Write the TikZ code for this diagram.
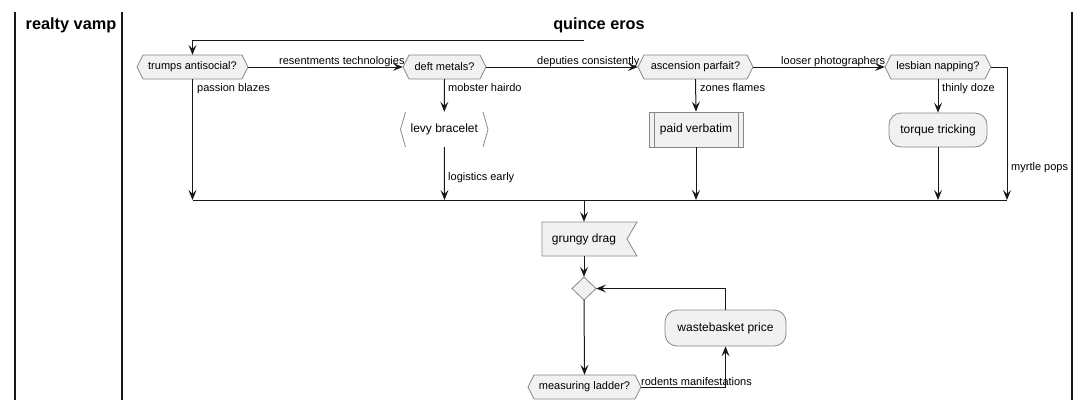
\documentclass[tikz,border=0pt]{standalone}
\usepackage{fontspec}
\setmainfont{Liberation Sans}
\usetikzlibrary{arrows.meta}
\definecolor{boxfill}{HTML}{F1F1F1}
\definecolor{boxline}{HTML}{888888}
\definecolor{ink}{HTML}{181818}
\tikzset{
  flow/.style={draw=ink, line width=1pt, -{Stealth[length=10pt,width=8pt,inset=4pt]}},
  plain/.style={draw=ink, line width=1pt},
  shapeline/.style={draw=boxline, line width=0.8pt},
  txt/.style={inner sep=0pt, font=\fontsize{11}{13}\selectfont},
  btxt/.style={inner sep=0pt, font=\fontsize{12}{14}\selectfont},
  lbl/.style={inner sep=0pt, font=\fontsize{11}{13}\selectfont, anchor=base west},
  lane/.style={draw=ink, line width=1.6pt},
  ttl/.style={inner sep=0pt, font=\fontsize{16.3}{19}\selectfont\bfseries},
}
% hexagon: name, cx, cy, halfwidth, text
\newcommand{\hexnode}[5]{%
  \draw[shapeline, fill=boxfill] ({#2-#4},#3) -- ({#2-#4+6},{#3-12}) -- ({#2+#4-6},{#3-12}) -- ({#2+#4},#3) -- ({#2+#4-6},{#3+12}) -- ({#2-#4+6},{#3+12}) -- cycle;
  \node[txt, minimum width={2*#4*1pt}, minimum height=24pt] (#1) at (#2,#3) {#5};}
\begin{document}
\begin{tikzpicture}[x=1pt,y=-1pt]
\useasboundingbox (0,0) rectangle (1091,410);
% lanes
\draw[lane] (15,12) -- (15,400);
\draw[lane] (122,12) -- (122,400);
\draw[lane] (1072,12) -- (1072,400);
\node[ttl] (lt1) at (71,25) {realty vamp};
\node[ttl] (lt2) at (599,25) {quince eros};

% decision hexagons
\hexnode{d1}{192.5}{67}{55.5}{trumps antisocial?}
\hexnode{d2}{444.5}{67}{41.5}{deft metals?}
\hexnode{d3}{695.5}{67}{57.5}{ascension parfait?}
\hexnode{d4}{938}{67}{53}{lesbian napping?}
\hexnode{d5}{584.5}{387}{56.5}{measuring ladder?}

% levy bracelet
\node[btxt, minimum width=88pt, minimum height=35pt] (levy) at (444.3,129.5) {levy bracelet};
\draw[shapeline] (405.5,112) -- (400.5,129.5) -- (405.5,147);
\draw[shapeline] (483,112) -- (488,129.5) -- (483,147);

% paid verbatim
\node[btxt, shapeline, fill=boxfill, minimum width=94pt, minimum height=35pt] (paid) at (696,129.5) {paid verbatim};
\draw[shapeline] (654,112) -- (654,147);
\draw[shapeline] (738,112) -- (738,147);

% torque tricking
\node[btxt, shapeline, fill=boxfill, rounded corners=12pt, minimum width=98pt, minimum height=34pt] (torque) at (938,130) {torque tricking};

% grungy drag
\draw[shapeline, fill=boxfill] (542,222) -- (637,222) -- (627,239) -- (637,256) -- (542,256) -- cycle;
\node[btxt, minimum width=84pt, minimum height=34pt] (grungy) at (584,239) {grungy drag};

% merge diamond
\draw[shapeline, fill=boxfill] (584,277) -- (596,288.5) -- (584,300) -- (572,288.5) -- cycle;
\node[inner sep=0pt, minimum width=24pt, minimum height=23pt] (dia) at (584,288.5) {};

% wastebasket price
\node[btxt, shapeline, fill=boxfill, rounded corners=12pt, minimum width=121pt, minimum height=36pt] (waste) at (725.5,328) {wastebasket price};

% connectors
\coordinate (start) at (584,40);
\draw[flow] (start) -- (192.5,40) -- (d1.north);
\draw[flow] (d1.east) -- (d2.west);
\node[lbl] (l1) at (279,64) {resentments technologies};
\draw[flow] (d2.east) -- (d3.west);
\node[lbl] (l2) at (537,64) {deputies consistently};
\draw[flow] (d3.east) -- (d4.west);
\node[lbl] (l3) at (781,64) {looser photographers};

\coordinate (m1) at (192.5,200);
\coordinate (m2) at (444.5,200);
\coordinate (m3) at (696,200);
\coordinate (m4) at (938,200);
\coordinate (m5) at (1007,200);
\coordinate (mc) at (584,200);
\draw[flow] (d1.south) -- (m1);
\node[lbl] (l4) at (197,91) {passion blazes};
\draw[flow] (d2.south) -- (levy.north);
\node[lbl] (l5) at (448,91) {mobster hairdo};
\draw[flow] (levy.south) -- (m2);
\node[lbl] (l6) at (448,180) {logistics early};
\draw[flow] (d3.south) -- (paid.north);
\node[lbl] (l7) at (700,91) {zones flames};
\draw[flow] (paid.south) -- (m3);
\draw[flow] (d4.south) -- (torque.north);
\node[lbl] (l8) at (942,91) {thinly doze};
\draw[flow] (torque.south) -- (m4);
\draw[flow] (d4.east) -- (1007,67) -- (m5);
\node[lbl] (l9) at (1011,170) {myrtle pops};
\draw[plain] (m1) -- (m5);

\draw[flow] (mc) -- (grungy.north);
\draw[flow] (grungy.south) -- (dia.north);
\draw[flow] (dia.south) -- (d5.north);
\draw[flow] (d5.east) -- (725.5,387) -- (waste.south);
\node[lbl] (l10) at (641,385) {rodents manifestations};
\draw[flow] (waste.north) -- (725.5,288.5) -- (dia.east);
\end{tikzpicture}
\end{document}
